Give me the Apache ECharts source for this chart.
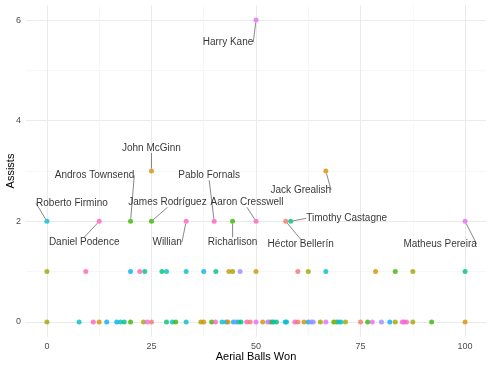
<!DOCTYPE html>
<html>
<head>
<meta charset="utf-8">
<script src="https://cdn.jsdelivr.net/npm/echarts@6/dist/echarts.min.js"></script>
<style>html,body{margin:0;padding:0;background:#fff}#c{width:500px;height:368px}</style>
</head>
<body>
<div id="c"></div>
<script>
// ---- data ----
const zeroAssistX = [0, 7.7, 11.1, 12.5, 14.3, 16.7, 17.6, 18.5, 20, 23.1, 24, 25, 28.6, 30, 30.8, 33.3,
  36.8, 37.5, 39.4, 40.3, 41.9, 42.9, 43.3, 44.6, 45.2, 45.8, 46.4, 47.8, 48.6, 50, 51.6, 52.8, 53.3, 53.8, 54.2, 54.9,
  57, 57.3, 59.3, 60, 61.5, 62.5, 63.2, 63.7, 65.4, 66.7, 68.6, 69.2, 69.7, 70.3, 71.4, 75, 76.7, 77.8, 80, 82, 83.3, 85, 85.4, 86, 87.5, 92, 100];
const zeroAssistColor = [2, 5, 9, 1, 6, 6, 5, 4, 3, 2, 8, 0, 4, 5, 3, 5,
  2, 1, 3, 9, 5, 6, 1, 6, 7, 5, 4, 9, 0, 8, 1, 7, 8, 3, 5, 4,
  6, 5, 9, 0, 1, 6, 7, 7, 2, 8, 3, 2, 5, 5, 2, 0, 3, 8, 7, 6, 2, 9, 8, 9, 2, 3, 1];
const oneAssistX = [0, 9.3, 20, 22.2, 23.4, 27.5, 28.6, 33.3, 37.5, 40.4, 43.5, 44.4, 46.2, 50, 60, 62.5, 66.7, 78.6, 83.3, 87.5, 100];
const oneAssistColor = [2, 9, 6, 9, 4, 4, 5, 5, 6, 4, 1, 2, 7, 1, 0, 2, 5, 1, 3, 2, 4];

const labeledNames = ["Harry Kane", "John McGinn", "Jack Grealish", "Roberto Firmino", "Daniel Podence",
  "Andros Townsend", "James Rodríguez", "Willian", "Pablo Fornals", "Richarlison", "Aaron Cresswell",
  "Héctor Bellerín", "Timothy Castagne", "Matheus Pereira"];
const labeledX = [50, 25, 66.7, 0, 12.5, 20, 25, 33.3, 40, 44.4, 50, 57.1, 58.3, 100];
const labeledY = [6, 3, 3, 2, 2, 2, 2, 2, 2, 2, 2, 2, 2, 2];
const labeledColor = [8, 1, 1, 5, 9, 3, 3, 9, 9, 3, 9, 0, 4, 8];

const xTickLabels = [0, 25, 50, 75, 100];
const xMinorGrid = [12.5, 37.5, 62.5, 87.5];
const yTickLabels = [0, 2, 4, 6];
const yMinorGrid = [1, 3, 5];

// ---- styles / layout ----
const palette = ['#F8766D', '#D89000', '#A3A500', '#39B600', '#00BF7D', '#00BFC4', '#00B0F6', '#9590FF', '#E76BF3', '#FF62BC'];
// label offsets (pixels) from each labeled point to its label centre
const labelOffsets = [[-28, 22], [0, -23], [-25, 19], [25, -18], [-15, 21], [-36, -46], [16, -19], [-19, 21],
  [-5, -46], [0, 21], [-9, -19], [15, 23], [56, -3], [-25, 23]];

function pts(xs, y, cs) {
  return xs.map((x, i) => ({ value: [x, y], itemStyle: { color: palette[cs[i]] } }));
}

const gridColor = '#EBEBEB';
const minorColor = '#F3F3F3';
const chart = echarts.init(document.getElementById('c'), null, { renderer: 'canvas' });
chart.setOption({
  animation: false,
  backgroundColor: '#ffffff',
  grid: { left: 26, right: 14, top: 5, bottom: 31, containLabel: false, outerBoundsMode: 'none' },
  xAxis: [
    {
      type: 'value', min: -5, max: 105,
      name: 'Aerial Balls Won', nameLocation: 'middle', nameGap: 14, nameMoveOverlap: false,
      nameTextStyle: { fontFamily: 'Liberation Sans', fontSize: 11, color: '#000' },
      axisLine: { show: false },
      axisLabel: { customValues: xTickLabels, fontFamily: 'Liberation Sans', fontSize: 9, color: '#4D4D4D', margin: 5 },
      axisTick: { show: false, customValues: xTickLabels },
      splitLine: { show: true, lineStyle: { color: gridColor, width: 1 } }
    },
    {
      type: 'value', min: -5, max: 105, position: 'bottom',
      axisLine: { show: false },
      axisLabel: { show: false },
      axisTick: { show: false, customValues: xMinorGrid },
      splitLine: { show: true, lineStyle: { color: minorColor, width: 0.7 } }
    }
  ],
  yAxis: [
    {
      type: 'value', min: -0.3, max: 6.3,
      name: 'Assists', nameLocation: 'middle', nameGap: 10, nameRotate: 90, nameMoveOverlap: false,
      nameTextStyle: { fontFamily: 'Liberation Sans', fontSize: 11, color: '#000' },
      axisLine: { show: false },
      axisLabel: { customValues: yTickLabels, fontFamily: 'Liberation Sans', fontSize: 9, color: '#4D4D4D', margin: 5 },
      axisTick: { show: false, customValues: yTickLabels },
      splitLine: { show: true, lineStyle: { color: gridColor, width: 1 } }
    },
    {
      type: 'value', min: -0.3, max: 6.3, position: 'left',
      axisLine: { show: false },
      axisLabel: { show: false },
      axisTick: { show: false, customValues: yMinorGrid },
      splitLine: { show: true, lineStyle: { color: minorColor, width: 0.7 } }
    }
  ],
  series: [
    {
      type: 'scatter', symbolSize: 5, silent: true,
      data: pts(zeroAssistX, 0, zeroAssistColor)
    },
    {
      type: 'scatter', symbolSize: 5, silent: true,
      data: pts(oneAssistX, 1, oneAssistColor)
    },
    {
      type: 'scatter', symbolSize: 5, silent: true,
      data: labeledX.map((x, i) => ({ value: [x, labeledY[i]], name: labeledNames[i], itemStyle: { color: palette[labeledColor[i]] } })),
      label: {
        show: true, position: 'inside', formatter: p => p.name,
        fontFamily: 'Liberation Sans', fontSize: 10, color: '#000', align: 'center', verticalAlign: 'middle'
      },
      labelLine: { show: true, lineStyle: { color: '#555', width: 0.7 } },
      labelLayout: p => ({ dx: labelOffsets[p.dataIndex][0], dy: labelOffsets[p.dataIndex][1], hideOverlap: false })
    }
  ]
});
</script>
</body>
</html>
